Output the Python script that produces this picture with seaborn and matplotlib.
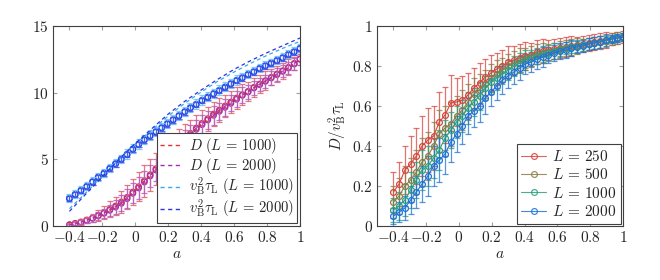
import numpy as np
import pandas as pd
import matplotlib
matplotlib.use("Agg")
import matplotlib.pyplot as plt
from matplotlib.lines import Line2D
import seaborn as sns

sns.set_style("ticks")
plt.rcParams.update({
    "mathtext.fontset": "cm",
    "font.family": ["serif"],
    "font.serif": ["DejaVu Serif"],
    "axes.edgecolor": "#404040",
    "axes.linewidth": 0.8,
})

# --- Data ---
a_vals = [-0.4, -0.365, -0.33, -0.295, -0.26, -0.225, -0.19, -0.155, -0.12, -0.085,
          -0.05, -0.015, 0.02, 0.055, 0.09, 0.125, 0.16, 0.195, 0.23, 0.265,
          0.3, 0.335, 0.37, 0.405, 0.44, 0.475, 0.51, 0.545, 0.58, 0.615,
          0.65, 0.685, 0.72, 0.755, 0.79, 0.825, 0.86, 0.895, 0.93, 0.965, 1.0]

# left panel: D and v_B^2 tau_L
D_1000 = [0.1, 0.2, 0.3, 0.45, 0.6, 0.8, 1.0, 1.25, 1.5, 1.8,
          2.15, 2.55, 2.95, 3.4, 3.85, 4.3, 4.8, 5.25, 5.7, 6.15,
          6.55, 6.95, 7.35, 7.7, 8.05, 8.4, 8.7, 9.0, 9.3, 9.6,
          9.85, 10.1, 10.4, 10.65, 10.9, 11.15, 11.4, 11.65, 11.9, 12.2, 12.55]
D_1000_err = [0.1, 0.15, 0.2, 0.25, 0.3, 0.4, 0.5, 0.6, 0.7, 0.8,
              0.9, 1.0, 1.1, 1.2, 1.2, 1.2, 1.2, 1.2, 1.2, 1.1,
              1.1, 1.0, 1.0, 1.0, 0.9, 0.9, 0.9, 0.8, 0.8, 0.8,
              0.8, 0.7, 0.7, 0.7, 0.7, 0.6, 0.6, 0.6, 0.6, 0.5, 0.5]
D_2000 = [0.08, 0.18, 0.28, 0.42, 0.58, 0.76, 0.95, 1.18, 1.42, 1.7,
          2.05, 2.45, 2.85, 3.3, 3.75, 4.2, 4.7, 5.15, 5.6, 6.05,
          6.45, 6.85, 7.25, 7.6, 7.95, 8.3, 8.6, 8.9, 9.2, 9.5,
          9.8, 10.05, 10.35, 10.6, 10.85, 11.1, 11.35, 11.6, 11.85, 12.15, 12.5]
D_2000_err = [0.1, 0.12, 0.15, 0.2, 0.25, 0.3, 0.35, 0.4, 0.5, 0.6,
              0.7, 0.75, 0.8, 0.8, 0.8, 0.8, 0.8, 0.8, 0.8, 0.8,
              0.75, 0.75, 0.7, 0.7, 0.7, 0.7, 0.65, 0.65, 0.6, 0.6,
              0.6, 0.55, 0.55, 0.5, 0.5, 0.5, 0.5, 0.45, 0.45, 0.45, 0.4]
vt_1000 = [2.1, 2.4, 2.7, 3.0, 3.35, 3.7, 4.0, 4.35, 4.7, 5.05,
           5.4, 5.8, 6.15, 6.5, 6.8, 7.1, 7.4, 7.7, 8.0, 8.3,
           8.6, 8.9, 9.15, 9.45, 9.7, 9.95, 10.2, 10.45, 10.7, 10.95,
           11.15, 11.4, 11.6, 11.85, 12.05, 12.25, 12.45, 12.65, 12.9, 13.1, 13.35]
vt_1000_err = [0.3] * 10 + [0.35] * 20 + [0.3] * 11
vt_2000 = [2.05, 2.35, 2.65, 2.95, 3.3, 3.65, 3.95, 4.3, 4.65, 5.0,
           5.35, 5.75, 6.1, 6.45, 6.75, 7.05, 7.35, 7.65, 7.95, 8.25,
           8.55, 8.85, 9.1, 9.4, 9.65, 9.9, 10.15, 10.4, 10.65, 10.9,
           11.1, 11.35, 11.55, 11.8, 12.0, 12.2, 12.4, 12.6, 12.85, 13.05, 13.3]
vt_2000_err = [0.2] * 41

# dashed reference curves
fit_a = [-0.4, -0.3, -0.2, -0.1, 0.0, 0.1, 0.2, 0.3, 0.4, 0.5, 0.6, 0.7, 0.8, 0.9, 1.0]
fit_1000 = [1.3, 2.5, 3.75, 5.0, 6.15, 7.2, 8.25, 9.2, 10.05, 10.85, 11.55, 12.2, 12.8, 13.35, 13.85]
fit_2000 = [1.1, 2.4, 3.7, 5.0, 6.2, 7.3, 8.4, 9.35, 10.2, 11.0, 11.75, 12.4, 13.0, 13.55, 14.1]

# right panel: D / v_B^2 tau_L
r_250 = [0.17, 0.21, 0.28, 0.31, 0.35, 0.40, 0.43, 0.45, 0.52, 0.555,
         0.615, 0.62, 0.63, 0.655, 0.69, 0.715, 0.745, 0.765, 0.785, 0.80,
         0.82, 0.83, 0.84, 0.85, 0.855, 0.87, 0.875, 0.88, 0.885, 0.89,
         0.895, 0.90, 0.905, 0.91, 0.915, 0.92, 0.925, 0.93, 0.935, 0.94, 0.945]
r_250_err = [0.10, 0.11, 0.12, 0.14, 0.14, 0.15, 0.16, 0.15, 0.15, 0.14,
             0.14, 0.12, 0.12, 0.11, 0.10, 0.10, 0.09, 0.09, 0.08, 0.08,
             0.08, 0.07, 0.07, 0.07, 0.06, 0.06, 0.06, 0.05, 0.05, 0.05,
             0.05, 0.05, 0.04, 0.04, 0.04, 0.04, 0.04, 0.04, 0.03, 0.03, 0.03]
r_500 = [0.12, 0.15, 0.20, 0.23, 0.27, 0.32, 0.35, 0.40, 0.46, 0.49,
         0.51, 0.55, 0.58, 0.62, 0.66, 0.68, 0.71, 0.74, 0.76, 0.78,
         0.80, 0.815, 0.83, 0.84, 0.85, 0.86, 0.865, 0.87, 0.875, 0.885,
         0.89, 0.895, 0.90, 0.905, 0.91, 0.915, 0.92, 0.925, 0.935, 0.94, 0.945]
r_500_err = [0.08, 0.09, 0.10, 0.11, 0.11, 0.12, 0.12, 0.12, 0.12, 0.11,
             0.11, 0.10, 0.10, 0.09, 0.08, 0.08, 0.07, 0.07, 0.07, 0.06,
             0.06, 0.06, 0.06, 0.05, 0.05, 0.05, 0.05, 0.04, 0.04, 0.04,
             0.04, 0.04, 0.04, 0.03, 0.03, 0.03, 0.03, 0.03, 0.03, 0.03, 0.02]
r_1000 = [0.08, 0.10, 0.13, 0.18, 0.23, 0.28, 0.30, 0.34, 0.38, 0.44,
          0.48, 0.52, 0.55, 0.59, 0.62, 0.65, 0.69, 0.72, 0.74, 0.76,
          0.78, 0.80, 0.815, 0.83, 0.84, 0.85, 0.86, 0.865, 0.875, 0.88,
          0.89, 0.895, 0.90, 0.905, 0.91, 0.915, 0.92, 0.93, 0.935, 0.94, 0.945]
r_1000_err = [0.06, 0.07, 0.08, 0.09, 0.09, 0.10, 0.10, 0.10, 0.10, 0.09,
              0.09, 0.08, 0.08, 0.08, 0.07, 0.07, 0.06, 0.06, 0.06, 0.05,
              0.05, 0.05, 0.05, 0.05, 0.04, 0.04, 0.04, 0.04, 0.04, 0.03,
              0.03, 0.03, 0.03, 0.03, 0.03, 0.03, 0.03, 0.02, 0.02, 0.02, 0.02]
r_2000 = [0.05, 0.07, 0.09, 0.13, 0.17, 0.21, 0.25, 0.30, 0.33, 0.36,
          0.42, 0.46, 0.50, 0.55, 0.575, 0.60, 0.64, 0.67, 0.70, 0.73,
          0.75, 0.77, 0.79, 0.81, 0.82, 0.835, 0.845, 0.855, 0.865, 0.875,
          0.88, 0.89, 0.895, 0.90, 0.91, 0.915, 0.92, 0.93, 0.935, 0.94, 0.945]
r_2000_err = [0.04, 0.05, 0.06, 0.07, 0.08, 0.09, 0.10, 0.10, 0.11, 0.10,
              0.10, 0.09, 0.09, 0.09, 0.08, 0.08, 0.08, 0.07, 0.07, 0.07,
              0.06, 0.06, 0.06, 0.05, 0.05, 0.05, 0.05, 0.04, 0.04, 0.04,
              0.04, 0.04, 0.03, 0.03, 0.03, 0.03, 0.03, 0.03, 0.02, 0.02, 0.02]

a_ticks = [-0.4, -0.2, 0, 0.2, 0.4, 0.6, 0.8, 1]
a_labels = ["$-0.4$", "$-0.2$", "$0$", "$0.2$", "$0.4$", "$0.6$", "$0.8$", "$1$"]

fig = plt.figure(figsize=(6.6, 2.8), dpi=100)
ax1 = fig.add_axes([53 / 660, 54 / 280, 247 / 660, 200 / 280])
ax2 = fig.add_axes([377 / 660, 54 / 280, 246 / 660, 200 / 280])

FS = 11
DASH = (0, (3, 2.5))


def style(ax):
    ax.tick_params(direction="in", top=True, right=True, length=3,
                   color="#a0a0a0", labelsize=FS, pad=3)
    ax.set_xlim(-0.5, 1.0)
    ax.set_xticks(a_ticks)
    ax.set_xticklabels(a_labels)
    ax.set_xlabel("$a$", fontsize=FS, labelpad=1)


# ─── Left panel ───
left_series = [
    (D_1000, D_1000_err, "#e0303a", "#e4606a", r"$D\ (L\,=\,1000)$"),
    (D_2000, D_2000_err, "#a030b0", "#b060c8", r"$D\ (L\,=\,2000)$"),
    (vt_1000, vt_1000_err, "#38a8f0", "#70c0f8", r"$v_{\mathrm{B}}^2\tau_{\mathrm{L}}\ (L\,=\,1000)$"),
    (vt_2000, vt_2000_err, "#2a35e0", "#4050e8", r"$v_{\mathrm{B}}^2\tau_{\mathrm{L}}\ (L\,=\,2000)$"),
]
for y, err, col, ecol, lab in left_series:
    ax1.errorbar(a_vals, y, yerr=err, fmt="none", ecolor=ecol, elinewidth=0.9,
                 capsize=2.5, capthick=0.9, alpha=0.85)

df_fit = pd.DataFrame({"a": fit_a, "y1": fit_1000, "y2": fit_2000})
sns.lineplot(x=a_vals, y=D_1000, ax=ax1, color="#e0303a", linestyle=DASH, lw=0.8, legend=False)
sns.lineplot(x=a_vals, y=D_2000, ax=ax1, color="#a030b0", linestyle=DASH, lw=0.8, legend=False)
sns.lineplot(data=df_fit, x="a", y="y1", ax=ax1, color="#38a8f0", linestyle=DASH, lw=0.9, legend=False)
sns.lineplot(data=df_fit, x="a", y="y2", ax=ax1, color="#2a35e0", linestyle=DASH, lw=0.9, legend=False)

for y, err, col, ecol, lab in left_series:
    sns.scatterplot(x=a_vals, y=y, ax=ax1, marker="o", s=16, facecolor="none",
                    edgecolor=col, linewidth=0.9, legend=False)

ax1.set_ylim(0, 15)
ax1.set_yticks([0, 5, 10, 15])
ax1.set_yticklabels(["$0$", "$5$", "$10$", "$15$"])
ax1.set_ylabel("")
style(ax1)
handles1 = [Line2D([], [], color=s[2], lw=1.0, linestyle=DASH) for s in left_series]
leg1 = ax1.legend(handles1, [s[4] for s in left_series], loc="lower right",
                  fontsize=10.5, frameon=True, fancybox=False,
                  edgecolor="#404040", framealpha=1, handlelength=1.5,
                  borderaxespad=0.2, labelspacing=0.0, borderpad=0.2, handletextpad=0.5)
leg1.get_frame().set_linewidth(0.8)

# ─── Right panel ───
right_series = [
    (r_250, r_250_err, "#d8453f", r"$L\,=\,250$"),
    (r_500, r_500_err, "#8c7b48", r"$L\,=\,500$"),
    (r_1000, r_1000_err, "#2aa07c", r"$L\,=\,1000$"),
    (r_2000, r_2000_err, "#1f72d8", r"$L\,=\,2000$"),
]
for y, err, col, lab in right_series:
    ax2.errorbar(a_vals, y, yerr=err, fmt="none", ecolor=col, elinewidth=0.9,
                 capsize=2.5, capthick=0.9, alpha=0.75)
for y, err, col, lab in right_series:
    df_r = pd.DataFrame({"a": a_vals, "r": y})
    sns.lineplot(data=df_r, x="a", y="r", ax=ax2, color=col, lw=0.8, marker="o",
                 markersize=4.2, markerfacecolor="none", markeredgecolor=col,
                 markeredgewidth=0.9, legend=False)

ax2.set_ylim(0, 1)
ax2.set_yticks([0, 0.2, 0.4, 0.6, 0.8, 1])
ax2.set_yticklabels(["$0$", "$0.2$", "$0.4$", "$0.6$", "$0.8$", "$1$"])
ax2.set_ylabel(r"$D/v_{\mathrm{B}}^2\tau_{\mathrm{L}}$", fontsize=FS, labelpad=2)
style(ax2)
handles2 = [Line2D([], [], color=s[2], lw=0.8, marker="o", markersize=4.2,
                   markerfacecolor="none", markeredgewidth=0.9, alpha=0.85)
            for s in right_series]
leg2 = ax2.legend(handles2, [s[3] for s in right_series], loc="lower right",
                  fontsize=11, frameon=True, fancybox=False,
                  edgecolor="#404040", framealpha=1, handlelength=1.6,
                  borderaxespad=0.15, labelspacing=0.22, borderpad=0.3, handletextpad=0.4)
leg2.get_frame().set_linewidth(0.8)

fig.savefig("out.png", dpi=100)
